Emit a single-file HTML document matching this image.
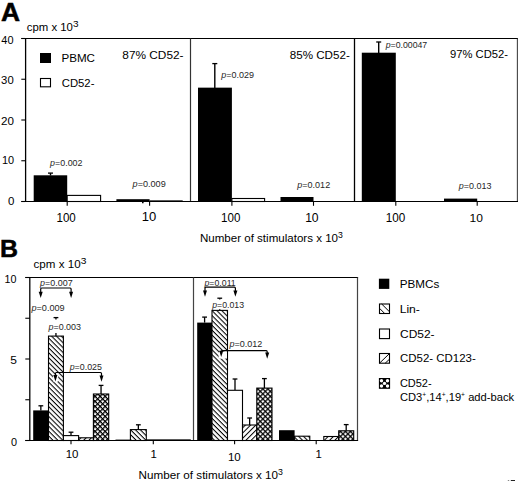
<!DOCTYPE html>
<html><head><meta charset="utf-8"><style>
html,body{margin:0;padding:0;background:#fff;}
svg{display:block;}
text{font-family:"Liberation Sans",sans-serif;}
</style></head><body>
<svg width="520" height="481" viewBox="0 0 520 481">
<defs>
<pattern id="pLin" patternUnits="userSpaceOnUse" width="3.46" height="3.46" patternTransform="rotate(45)"><rect width="3.46" height="3.46" fill="#fff"/><rect y="0" width="3.46" height="1.05" fill="#000"/></pattern>
<pattern id="pCd" patternUnits="userSpaceOnUse" width="3.7" height="3.7" patternTransform="rotate(-45)"><rect width="3.7" height="3.7" fill="#fff"/><rect y="0" width="3.7" height="1.0" fill="#000"/></pattern>
<pattern id="pX" patternUnits="userSpaceOnUse" width="3.54" height="3.54" patternTransform="rotate(45)"><rect width="3.54" height="3.54" fill="#fff"/><rect width="3.54" height="1.25" fill="#000"/><rect width="1.25" height="3.54" fill="#000"/></pattern>
</defs>
<rect width="520" height="481" fill="#fff"/>
<line x1="21.3" y1="38.5" x2="518.0" y2="38.5" stroke="#000" stroke-width="1.2"/>
<line x1="25.6" y1="38.5" x2="25.6" y2="201.5" stroke="#000" stroke-width="1.3"/>
<line x1="190.5" y1="38.5" x2="190.5" y2="201.5" stroke="#333" stroke-width="1.2"/>
<line x1="354.5" y1="38.5" x2="354.5" y2="201.5" stroke="#000" stroke-width="1.3"/>
<line x1="517.4" y1="38.5" x2="517.4" y2="201.5" stroke="#444" stroke-width="1.1"/>
<line x1="21.3" y1="201.5" x2="518.0" y2="201.5" stroke="#000" stroke-width="1.2"/>
<line x1="21.3" y1="201.5" x2="25.6" y2="201.5" stroke="#000" stroke-width="1.1"/>
<line x1="21.3" y1="160.75" x2="25.6" y2="160.75" stroke="#000" stroke-width="1.1"/>
<line x1="21.3" y1="120.0" x2="25.6" y2="120.0" stroke="#000" stroke-width="1.1"/>
<line x1="21.3" y1="79.25" x2="25.6" y2="79.25" stroke="#000" stroke-width="1.1"/>
<line x1="21.3" y1="38.5" x2="25.6" y2="38.5" stroke="#000" stroke-width="1.1"/>
<line x1="67.2" y1="201.5" x2="67.2" y2="205.8" stroke="#000" stroke-width="1.1"/>
<line x1="149.6" y1="201.5" x2="149.6" y2="205.8" stroke="#000" stroke-width="1.1"/>
<line x1="231.9" y1="201.5" x2="231.9" y2="205.8" stroke="#000" stroke-width="1.1"/>
<line x1="313.5" y1="201.5" x2="313.5" y2="205.8" stroke="#000" stroke-width="1.1"/>
<line x1="395.8" y1="201.5" x2="395.8" y2="205.8" stroke="#000" stroke-width="1.1"/>
<line x1="477.2" y1="201.5" x2="477.2" y2="205.8" stroke="#000" stroke-width="1.1"/>
<line x1="50.5" y1="173.1" x2="50.5" y2="175.5" stroke="#000" stroke-width="1.4"/>
<line x1="48.0" y1="173.1" x2="53.0" y2="173.1" stroke="#000" stroke-width="1.3"/>
<line x1="214.8" y1="63.6" x2="214.8" y2="88" stroke="#000" stroke-width="1.4"/>
<line x1="212.3" y1="63.6" x2="217.3" y2="63.6" stroke="#000" stroke-width="1.3"/>
<line x1="378.7" y1="42.0" x2="378.7" y2="53" stroke="#000" stroke-width="1.4"/>
<line x1="376.2" y1="42.0" x2="381.2" y2="42.0" stroke="#000" stroke-width="1.3"/>
<rect x="33.7" y="175.3" width="33.5" height="26.2" fill="#000"/>
<rect x="116.4" y="199.2" width="33.2" height="2.3" fill="#000"/>
<rect x="198.0" y="87.65" width="33.9" height="113.85" fill="#000"/>
<rect x="280.5" y="197.0" width="33.0" height="4.5" fill="#000"/>
<rect x="361.8" y="52.7" width="34.0" height="148.8" fill="#000"/>
<rect x="444.0" y="198.6" width="33.2" height="2.9" fill="#000"/>
<rect x="67.2" y="195.4" width="33.4" height="6.1" fill="#fff" stroke="#000" stroke-width="1.1"/>
<rect x="231.9" y="198.5" width="32.7" height="3.0" fill="#fff" stroke="#000" stroke-width="1.1"/>
<line x1="149.6" y1="200.7" x2="182.7" y2="200.7" stroke="#000" stroke-width="0.8"/>
<line x1="142.8" y1="200.5" x2="142.8" y2="203.2" stroke="#000" stroke-width="1.6"/>
<rect x="40.0" y="53.0" width="11.0" height="10.0" fill="#000"/>
<rect x="40.5" y="78.5" width="10.0" height="8.3" fill="#fff" stroke="#000" stroke-width="1.1"/>
<line x1="25.3" y1="277.5" x2="358.1" y2="277.5" stroke="#000" stroke-width="1.2"/>
<line x1="29.8" y1="277.5" x2="29.8" y2="440.5" stroke="#000" stroke-width="1.3"/>
<line x1="193.5" y1="277.5" x2="193.5" y2="440.5" stroke="#444" stroke-width="1.2"/>
<line x1="357.5" y1="277.5" x2="357.5" y2="440.5" stroke="#444" stroke-width="1.2"/>
<line x1="25.3" y1="440.5" x2="358.1" y2="440.5" stroke="#000" stroke-width="1.2"/>
<line x1="25.3" y1="440.5" x2="29.8" y2="440.5" stroke="#000" stroke-width="1.1"/>
<line x1="25.3" y1="399.75" x2="29.8" y2="399.75" stroke="#000" stroke-width="1.1"/>
<line x1="25.3" y1="359.0" x2="29.8" y2="359.0" stroke="#000" stroke-width="1.1"/>
<line x1="25.3" y1="318.25" x2="29.8" y2="318.25" stroke="#000" stroke-width="1.1"/>
<line x1="25.3" y1="277.5" x2="29.8" y2="277.5" stroke="#000" stroke-width="1.1"/>
<line x1="71.0" y1="440.5" x2="71.0" y2="444.3" stroke="#000" stroke-width="1.1"/>
<line x1="153.3" y1="440.5" x2="153.3" y2="444.3" stroke="#000" stroke-width="1.1"/>
<line x1="234.6" y1="440.5" x2="234.6" y2="444.3" stroke="#000" stroke-width="1.1"/>
<line x1="316.2" y1="440.5" x2="316.2" y2="444.3" stroke="#000" stroke-width="1.1"/>
<line x1="40.85" y1="405.8" x2="40.85" y2="410.4" stroke="#000" stroke-width="1.3"/>
<line x1="38.45" y1="405.8" x2="43.25" y2="405.8" stroke="#000" stroke-width="1.3"/>
<rect x="33.2" y="410.4" width="15.3" height="30.6" fill="#000"/>
<line x1="55.95" y1="317.6" x2="55.95" y2="319.6" stroke="#000" stroke-width="1.3"/>
<line x1="55.95" y1="332.9" x2="55.95" y2="336.1" stroke="#000" stroke-width="1.3"/>
<line x1="53.550000000000004" y1="317.6" x2="58.35" y2="317.6" stroke="#000" stroke-width="1.3"/>
<rect x="48.5" y="336.1" width="14.9" height="104.4" fill="url(#pLin)" stroke="#000" stroke-width="1.1"/>
<line x1="71.0" y1="432.2" x2="71.0" y2="435.6" stroke="#000" stroke-width="1.3"/>
<line x1="68.6" y1="432.2" x2="73.4" y2="432.2" stroke="#000" stroke-width="1.3"/>
<rect x="63.4" y="435.6" width="15.2" height="4.9" fill="#fff" stroke="#000" stroke-width="1.1"/>
<rect x="78.6" y="437.8" width="14.8" height="2.7" fill="url(#pCd)" stroke="#000" stroke-width="1.1"/>
<line x1="101.05" y1="385.4" x2="101.05" y2="394.0" stroke="#000" stroke-width="1.3"/>
<line x1="98.64999999999999" y1="385.4" x2="103.45" y2="385.4" stroke="#000" stroke-width="1.3"/>
<rect x="93.4" y="394.0" width="15.3" height="46.5" fill="url(#pX)" stroke="#000" stroke-width="1.1"/>
<rect x="115.5" y="439.6" width="14.9" height="1.4" fill="#000"/>
<line x1="138.35" y1="424.8" x2="138.35" y2="429.6" stroke="#000" stroke-width="1.3"/>
<line x1="135.95" y1="424.8" x2="140.75" y2="424.8" stroke="#000" stroke-width="1.3"/>
<rect x="130.4" y="429.6" width="15.9" height="10.9" fill="url(#pLin)" stroke="#000" stroke-width="1.1"/>
<line x1="204.6" y1="317.1" x2="204.6" y2="322.6" stroke="#000" stroke-width="1.3"/>
<line x1="202.2" y1="317.1" x2="207.0" y2="317.1" stroke="#000" stroke-width="1.3"/>
<rect x="197.2" y="322.6" width="14.8" height="118.4" fill="#000"/>
<line x1="219.75" y1="298.2" x2="219.75" y2="299.6" stroke="#000" stroke-width="1.3"/>
<line x1="219.75" y1="309.2" x2="219.75" y2="310.4" stroke="#000" stroke-width="1.3"/>
<line x1="217.35" y1="298.2" x2="222.15" y2="298.2" stroke="#000" stroke-width="1.3"/>
<rect x="212.0" y="310.4" width="15.5" height="130.1" fill="url(#pLin)" stroke="#000" stroke-width="1.1"/>
<line x1="235.0" y1="379.0" x2="235.0" y2="390.3" stroke="#000" stroke-width="1.3"/>
<line x1="232.6" y1="379.0" x2="237.4" y2="379.0" stroke="#000" stroke-width="1.3"/>
<rect x="227.5" y="390.3" width="15.0" height="50.2" fill="#fff" stroke="#000" stroke-width="1.1"/>
<line x1="249.65" y1="418.0" x2="249.65" y2="425.0" stroke="#000" stroke-width="1.3"/>
<line x1="247.25" y1="418.0" x2="252.05" y2="418.0" stroke="#000" stroke-width="1.3"/>
<rect x="242.5" y="425.0" width="14.3" height="15.5" fill="url(#pCd)" stroke="#000" stroke-width="1.1"/>
<line x1="264.4" y1="378.6" x2="264.4" y2="388.1" stroke="#000" stroke-width="1.3"/>
<line x1="262.0" y1="378.6" x2="266.79999999999995" y2="378.6" stroke="#000" stroke-width="1.3"/>
<rect x="256.8" y="388.1" width="15.2" height="52.4" fill="url(#pX)" stroke="#000" stroke-width="1.1"/>
<rect x="279.0" y="430.2" width="15.6" height="10.8" fill="#000"/>
<rect x="294.6" y="436.2" width="15.2" height="4.3" fill="url(#pLin)" stroke="#000" stroke-width="1.1"/>
<rect x="323.8" y="436.5" width="14.9" height="4.0" fill="url(#pCd)" stroke="#000" stroke-width="1.1"/>
<line x1="346.2" y1="424.6" x2="346.2" y2="430.8" stroke="#000" stroke-width="1.3"/>
<line x1="343.8" y1="424.6" x2="348.59999999999997" y2="424.6" stroke="#000" stroke-width="1.3"/>
<rect x="338.7" y="430.8" width="15.0" height="9.7" fill="url(#pX)" stroke="#000" stroke-width="1.1"/>
<line x1="146.3" y1="439.7" x2="190.8" y2="439.7" stroke="#000" stroke-width="0.8"/>
<path d="M40.7 293.0 V289.0 Q40.7 288.0 41.7 288.0 H70.1 Q71.1 288.0 71.1 289.0 V293.0" fill="none" stroke="#000" stroke-width="1.2" />
<path d="M38.7 291.7 L42.7 291.7 L40.7 298.0 Z" fill="#000"/>
<path d="M69.1 291.7 L73.1 291.7 L71.1 298.0 Z" fill="#000"/>
<rect x="53.0" y="374.6" width="5.200000000000003" height="7.599999999999966" rx="2" fill="#fff"/>
<path d="M55.4 376.4 V373.5 Q55.4 372.5 56.4 372.5 H100.5 Q101.5 372.5 101.5 373.5 V376.7" fill="none" stroke="#000" stroke-width="1.2" />
<path d="M53.4 375.1 L57.4 375.1 L55.4 381.4 Z" fill="#000"/>
<path d="M99.5 375.4 L103.5 375.4 L101.5 381.7 Z" fill="#000"/>
<path d="M205.0 291.8 V288.2 Q205.0 287.2 206.0 287.2 H234.4 Q235.4 287.2 235.4 288.2 V291.8" fill="none" stroke="#000" stroke-width="1.2" />
<path d="M203.0 290.5 L207.0 290.5 L205.0 296.8 Z" fill="#000"/>
<path d="M233.4 290.5 L237.4 290.5 L235.4 296.8 Z" fill="#000"/>
<rect x="218.6" y="351.6" width="8.400000000000006" height="7.199999999999989" rx="2" fill="#fff"/>
<path d="M221.2 352.0 V351.7 Q221.2 350.7 222.2 350.7 H266.2 Q267.2 350.7 267.2 351.7 V353.8" fill="none" stroke="#000" stroke-width="1.2" />
<path d="M219.2 350.7 L223.2 350.7 L221.2 357.0 Z" fill="#000"/>
<path d="M265.2 352.5 L269.2 352.5 L267.2 358.8 Z" fill="#000"/>
<rect x="510.8" y="480" width="4.2" height="1" fill="#222"/>
<rect x="507.8" y="480" width="1.4" height="1" fill="#888"/>
<rect x="378.9" y="278.7" width="10.4" height="10.2" fill="#000"/>
<rect x="379.5" y="304.0" width="10.0" height="9.5" fill="#fff" stroke="#000" stroke-width="1.1"/>
<path d="M381.7 304 L389.5 311.8 M379.5 308.3 L384.7 313.5" stroke="#000" stroke-width="1"/>
<rect x="379.5" y="329.0" width="10.0" height="9.6" fill="#fff" stroke="#000" stroke-width="1.1"/>
<rect x="379.5" y="353.5" width="10.0" height="9.7" fill="#fff" stroke="#000" stroke-width="1.1"/>
<path d="M379.5 363.2 L389.5 353.5 M385.2 363.2 L389.5 359.2" stroke="#000" stroke-width="1"/>
<rect x="379.5" y="378.6" width="10.0" height="9.6" fill="#000" stroke="#000" stroke-width="1.2"/>
<circle cx="381.5" cy="380.8" r="1.7" fill="#fff"/>
<circle cx="387.5" cy="380.8" r="1.7" fill="#fff"/>
<circle cx="384.5" cy="383.4" r="1.7" fill="#fff"/>
<circle cx="381.5" cy="386.0" r="1.7" fill="#fff"/>
<circle cx="387.5" cy="386.0" r="1.7" fill="#fff"/>
<g id="A" transform="translate(0.89,20.75) scale(1.0553,1)"><text x="0" y="0" font-size="25.0" fill="#000" stroke="#000" stroke-width="0.5"><tspan font-weight="bold">A</tspan></text></g>
<g id="B" transform="translate(-0.12,256.75) scale(1.0268,1)"><text x="0" y="0" font-size="24.27" fill="#000" stroke="#000" stroke-width="0.5"><tspan font-weight="bold">B</tspan></text></g>
<g id="cpmA" transform="translate(26.77,31.15) scale(1.0473,1)"><text x="0" y="0" font-size="10.88" fill="#000"><tspan>cpm x 10</tspan><tspan dy="-4.14" font-size="9.58">3</tspan></text></g>
<g id="cpmB" transform="translate(33.56,268.15) scale(1.0946,1)"><text x="0" y="0" font-size="10.6" fill="#000"><tspan>cpm x 10</tspan><tspan dy="-4.03" font-size="9.33">3</tspan></text></g>
<g id="ya40" transform="translate(1.30,43.75) scale(1.0922,1)"><text x="0" y="0" font-size="10.03" fill="#000"><tspan>40</tspan></text></g>
<g id="ya30" transform="translate(1.12,84.45) scale(1.0961,1)"><text x="0" y="0" font-size="10.31" fill="#000"><tspan>30</tspan></text></g>
<g id="ya20" transform="translate(0.96,124.65) scale(1.1281,1)"><text x="0" y="0" font-size="10.31" fill="#000"><tspan>20</tspan></text></g>
<g id="ya10" transform="translate(1.92,163.95) scale(1.0751,1)"><text x="0" y="0" font-size="10.17" fill="#000"><tspan>10</tspan></text></g>
<g id="ya0" transform="translate(8.10,205.15) scale(1.1315,1)"><text x="0" y="0" font-size="10.17" fill="#000"><tspan>0</tspan></text></g>
<g id="yb10" transform="translate(4.43,282.75) scale(0.9731,1)"><text x="0" y="0" font-size="11.03" fill="#000"><tspan>10</tspan></text></g>
<g id="yb5" transform="translate(10.37,364.05) scale(1.0883,1)"><text x="0" y="0" font-size="11.05" fill="#000"><tspan>5</tspan></text></g>
<g id="yb0" transform="translate(10.93,445.75) scale(1.0698,1)"><text x="0" y="0" font-size="10.17" fill="#000"><tspan>0</tspan></text></g>
<g id="legPBMC" transform="translate(61.40,61.75) scale(1.0684,1)"><text x="0" y="0" font-size="10.88" fill="#000"><tspan>PBMC</tspan></text></g>
<g id="legCD52" transform="translate(61.78,86.95) scale(0.9748,1)"><text x="0" y="0" font-size="11.6" fill="#000"><tspan>CD52-</tspan></text></g>
<g id="pc87" transform="translate(122.34,58.85) scale(1.0341,1)"><text x="0" y="0" font-size="11.46" fill="#000"><tspan>87% CD52-</tspan></text></g>
<g id="pc85" transform="translate(289.74,58.55) scale(1.0152,1)"><text x="0" y="0" font-size="11.46" fill="#000"><tspan>85% CD52-</tspan></text></g>
<g id="pc97" transform="translate(450.02,58.45) scale(1.0067,1)"><text x="0" y="0" font-size="11.17" fill="#000"><tspan>97% CD52-</tspan></text></g>
<g id="pa1" transform="translate(50.07,165.85) scale(1.0717,1)"><text x="0" y="0" font-size="8.31" fill="#262626"><tspan font-style="italic">p</tspan><tspan>=0.002</tspan></text></g>
<g id="pa2" transform="translate(132.58,187.15) scale(1.0608,1)"><text x="0" y="0" font-size="8.59" fill="#262626"><tspan font-style="italic">p</tspan><tspan>=0.009</tspan></text></g>
<g id="pa3" transform="translate(221.27,78.15) scale(1.0308,1)"><text x="0" y="0" font-size="8.74" fill="#262626"><tspan font-style="italic">p</tspan><tspan>=0.029</tspan></text></g>
<g id="pa4" transform="translate(297.28,187.75) scale(0.9564,1)"><text x="0" y="0" font-size="9.45" fill="#262626"><tspan font-style="italic">p</tspan><tspan>=0.012</tspan></text></g>
<g id="pa5" transform="translate(385.67,47.95) scale(1.0187,1)"><text x="0" y="0" font-size="8.59" fill="#262626"><tspan font-style="italic">p</tspan><tspan>=0.00047</tspan></text></g>
<g id="pa6" transform="translate(458.77,188.55) scale(0.9518,1)"><text x="0" y="0" font-size="9.45" fill="#262626"><tspan font-style="italic">p</tspan><tspan>=0.013</tspan></text></g>
<g id="xa1" transform="translate(56.47,221.75) scale(0.9409,1)"><text x="0" y="0" font-size="12.32" fill="#000"><tspan>100</tspan></text></g>
<g id="xa2" transform="translate(141.76,221.45) scale(1.0586,1)"><text x="0" y="0" font-size="12.32" fill="#000"><tspan>10</tspan></text></g>
<g id="xa3" transform="translate(221.07,221.75) scale(0.9520,1)"><text x="0" y="0" font-size="12.17" fill="#000"><tspan>100</tspan></text></g>
<g id="xa4" transform="translate(305.13,221.55) scale(1.0209,1)"><text x="0" y="0" font-size="11.89" fill="#000"><tspan>10</tspan></text></g>
<g id="xa5" transform="translate(385.76,221.85) scale(0.9626,1)"><text x="0" y="0" font-size="12.17" fill="#000"><tspan>100</tspan></text></g>
<g id="xa6" transform="translate(469.53,221.75) scale(1.0375,1)"><text x="0" y="0" font-size="11.6" fill="#000"><tspan>10</tspan></text></g>
<g id="titA" transform="translate(199.90,241.85) scale(1.0105,1)"><text x="0" y="0" font-size="11.45" fill="#000"><tspan>Number of stimulators x 10</tspan><tspan dy="-4.12" font-size="8.59">3</tspan></text></g>
<g id="pb1" transform="translate(40.07,285.75) scale(1.0601,1)"><text x="0" y="0" font-size="8.45" fill="#262626"><tspan font-style="italic">p</tspan><tspan>=0.007</tspan></text></g>
<g id="pb2" transform="translate(31.38,311.00) scale(1.0381,1)"><text x="0" y="0" font-size="8.81" fill="#262626"><tspan font-style="italic">p</tspan><tspan>=0.009</tspan></text></g>
<g id="pb3" transform="translate(48.47,329.75) scale(0.9755,1)"><text x="0" y="0" font-size="9.17" fill="#262626"><tspan font-style="italic">p</tspan><tspan>=0.003</tspan></text></g>
<g id="pb4" transform="translate(69.67,370.15) scale(1.0135,1)"><text x="0" y="0" font-size="8.74" fill="#262626"><tspan font-style="italic">p</tspan><tspan>=0.025</tspan></text></g>
<g id="pb5" transform="translate(204.47,285.65) scale(1.0027,1)"><text x="0" y="0" font-size="8.74" fill="#262626"><tspan font-style="italic">p</tspan><tspan>=0.011</tspan></text></g>
<g id="pb6" transform="translate(212.17,307.75) scale(1.0014,1)"><text x="0" y="0" font-size="8.74" fill="#262626"><tspan font-style="italic">p</tspan><tspan>=0.013</tspan></text></g>
<g id="pb7" transform="translate(229.48,346.95) scale(1.0181,1)"><text x="0" y="0" font-size="8.88" fill="#262626"><tspan font-style="italic">p</tspan><tspan>=0.012</tspan></text></g>
<g id="xb1" transform="translate(65.67,457.95) scale(1.0597,1)"><text x="0" y="0" font-size="10.88" fill="#000"><tspan>10</tspan></text></g>
<g id="xb2" transform="translate(150.48,457.95) scale(1.1170,1)"><text x="0" y="0" font-size="10.17" fill="#000"><tspan>1</tspan></text></g>
<g id="xb3" transform="translate(227.97,461.05) scale(1.0597,1)"><text x="0" y="0" font-size="10.88" fill="#000"><tspan>10</tspan></text></g>
<g id="xb4" transform="translate(315.48,457.95) scale(1.0860,1)"><text x="0" y="0" font-size="10.47" fill="#000"><tspan>1</tspan></text></g>
<g id="titB" transform="translate(138.49,478.75) scale(1.0329,1)"><text x="0" y="0" font-size="11.32" fill="#000"><tspan>Number of stimulators x 10</tspan><tspan dy="-4.07" font-size="8.49">3</tspan></text></g>
<g id="lbPBMC" transform="translate(399.69,287.75) scale(1.0590,1)"><text x="0" y="0" font-size="11.03" fill="#000"><tspan>PBMCs</tspan></text></g>
<g id="lbLin" transform="translate(399.65,312.65) scale(1.0991,1)"><text x="0" y="0" font-size="11.04" fill="#000"><tspan>Lin-</tspan></text></g>
<g id="lbCD52" transform="translate(400.04,337.55) scale(1.1278,1)"><text x="0" y="0" font-size="10.6" fill="#000"><tspan>CD52-</tspan></text></g>
<g id="lbCD123" transform="translate(400.07,362.05) scale(1.0392,1)"><text x="0" y="0" font-size="11.03" fill="#000"><tspan>CD52- CD123-</tspan></text></g>
<g id="lbX1" transform="translate(399.89,387.35) scale(1.0093,1)"><text x="0" y="0" font-size="10.88" fill="#000"><tspan>CD52-</tspan></text></g>
<g id="lbX2" transform="translate(399.88,401.45) scale(1.0655,1)"><text x="0" y="0" font-size="10.49" fill="#000"><tspan>CD3</tspan><tspan dy="-4.41" font-size="6.29">+</tspan><tspan dy="4.41" font-size="10.49">,14</tspan><tspan dy="-4.41" font-size="6.29">+</tspan><tspan dy="4.41" font-size="10.49">,19</tspan><tspan dy="-4.41" font-size="6.29">+</tspan><tspan dy="4.41" font-size="10.49"> add-back</tspan></text></g>
</svg>
</body></html>
